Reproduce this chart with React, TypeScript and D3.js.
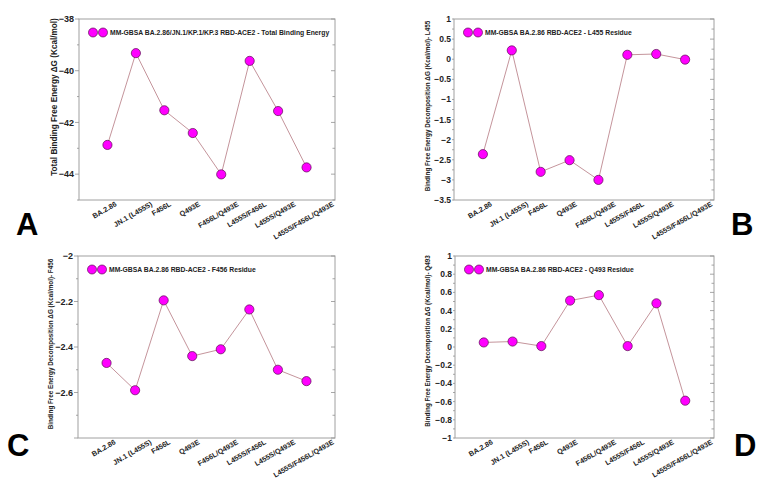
import React, { useRef, useEffect } from 'react';
import * as d3 from 'd3';

const variants = ['BA.2.86', 'JN.1 (L455S)', 'F456L', 'Q493E', 'F456L/Q493E', 'L455S/F456L', 'L455S/Q493E', 'L455S/F456L/Q493E'];

const totalEnergy = [-42.87, -39.32, -41.53, -42.41, -44.01, -39.62, -41.56, -43.74];
const l455Energy = [-2.36, 0.22, -2.8, -2.51, -3.0, 0.11, 0.13, -0.01];
const f456Energy = [-2.47, -2.59, -2.195, -2.44, -2.41, -2.235, -2.5, -2.55];
const q493Energy = [0.05, 0.06, 0.01, 0.51, 0.57, 0.01, 0.48, -0.59];

const panels = [
    {
        letter: 'A', values: totalEnergy, domain: [-45, -38], major: 2, minor: 1, labelBottom: false,
        yLabel: 'Total Binding Free Energy   \u0394G (Kcal/mol)', yLabelSize: 8.2, labelY: 97,
        legend: 'MM-GBSA BA.2.86/JN.1/KP.1/KP.3  RBD-ACE2  -  Total Binding Energy',
        box: { x0: 79, x1: 335, y0: 19, y1: 200 }, labelX: 57, tickSize: 9, tickGap: 5,
        letterPos: [16, 235]
    },
    {
        letter: 'B', values: l455Energy, domain: [-3.5, 1], major: 0.5, minor: 0.25, labelBottom: true,
        yLabel: 'Binding Free Energy Decomposition \u0394G (Kcal/mol)- L455', yLabelSize: 6.3, labelY: 106,
        legend: 'MM-GBSA BA.2.86 RBD-ACE2 -  L455 Residue',
        box: { x0: 454, x1: 714, y0: 19, y1: 200 }, labelX: 430, tickSize: 8.5, tickGap: 3,
        letterPos: [731, 235]
    },
    {
        letter: 'C', values: f456Energy, domain: [-2.8, -2], major: 0.2, minor: 0.1, labelBottom: false,
        yLabel: 'Binding Free Energy Decomposition \u0394G (Kcal/mol)- F456', yLabelSize: 6.3, labelY: 344,
        legend: 'MM-GBSA BA.2.86 RBD-ACE2 -  F456 Residue',
        box: { x0: 78, x1: 335, y0: 256, y1: 438 }, labelX: 53, tickSize: 9, tickGap: 5,
        letterPos: [7, 456]
    },
    {
        letter: 'D', values: q493Energy, domain: [-1, 1], major: 0.2, minor: 0.1, labelBottom: true,
        yLabel: 'Binding Free Energy Decomposition \u0394G (Kcal/mol)- Q493', yLabelSize: 6.3, labelY: 341,
        legend: 'MM-GBSA BA.2.86 RBD-ACE2 -  Q493 Residue',
        box: { x0: 455, x1: 714, y0: 256, y1: 438 }, labelX: 430, tickSize: 8.5, tickGap: 3,
        letterPos: [734, 456]
    }
];

const App = () => {
    const svgRef = useRef(null);

    useEffect(() => {
        const svg = d3.select(svgRef.current);
        svg.selectAll('*').remove();
        const font = 'Arial, Liberation Sans, sans-serif';
        const ang = 30;
        const rad = ang * Math.PI / 180;

        panels.forEach(p => {
            const { x0, x1, y0, y1 } = p.box;
            const g = svg.append('g');
            const x = d3.scaleLinear().domain([0, variants.length + 1]).range([x0, x1]);
            const y = d3.scaleLinear().domain(p.domain).range([y1, y0]);

            // frame
            g.append('rect')
                .attr('x', x0).attr('y', y0)
                .attr('width', x1 - x0).attr('height', y1 - y0)
                .attr('fill', 'none').attr('stroke', '#a0a0a0').attr('stroke-width', 1);

            const n = Math.round((p.domain[1] - p.domain[0]) / p.minor);
            const ticks = d3.range(n + 1).map(i => p.domain[0] + i * p.minor);
            ticks.forEach((t, i) => {
                const isMajor = Math.abs(t / p.major - Math.round(t / p.major)) < 1e-6;
                const len = isMajor ? 4 : 2.5;
                const outLen = isMajor ? p.tickGap - 1 : 2;
                g.append('line')
                    .attr('x1', x0 - outLen).attr('x2', x0)
                    .attr('y1', y(t)).attr('y2', y(t))
                    .attr('stroke', '#909090').attr('stroke-width', 0.8);
                g.append('line')
                    .attr('x1', x1 - len).attr('x2', x1)
                    .attr('y1', y(t)).attr('y2', y(t))
                    .attr('stroke', '#909090').attr('stroke-width', 0.8);
                if (isMajor && (i > 0 || p.labelBottom)) {
                    g.append('text')
                        .attr('x', x0 - p.tickGap).attr('y', y(t))
                        .attr('dy', '0.35em')
                        .attr('text-anchor', 'end')
                        .attr('font-family', font).attr('font-weight', 'bold')
                        .attr('font-size', p.tickSize)
                        .attr('fill', '#222')
                        .text(d3.format('~g')(+t.toFixed(4)));
                }
            });

            // y label
            g.append('text')
                .attr('transform', `translate(${p.labelX},${p.labelY}) rotate(-90)`)
                .attr('text-anchor', 'middle')
                .attr('font-family', font).attr('font-weight', 'bold')
                .attr('font-size', p.yLabelSize)
                .attr('fill', '#222')
                .text(p.yLabel);

            // x labels: rotated, bounding box centred under the category, top just below the frame
            variants.forEach((v, i) => {
                const t = g.append('text')
                    .attr('text-anchor', 'middle')
                    .attr('dy', '0.35em')
                    .attr('font-family', font).attr('font-weight', 'bold')
                    .attr('font-size', 7.2)
                    .attr('fill', '#222')
                    .text(v);
                const L = (t.node() as SVGTextElement).getComputedTextLength();
                const boxH = L * Math.sin(rad) + 5.5 * Math.cos(rad);
                t.attr('transform', `translate(${x(i + 1) - 3},${y1 + 1 + boxH / 2}) rotate(${-ang})`);
            });

            const line = d3.line()
                .x((d, i) => x(i + 1))
                .y(d => y(d));

            g.append('path')
                .attr('d', line(p.values))
                .attr('fill', 'none')
                .attr('stroke', '#bd8890')
                .attr('stroke-width', 0.9);

            g.selectAll('circle.pt')
                .data(p.values)
                .join('circle')
                .attr('class', 'pt')
                .attr('cx', (d, i) => x(i + 1))
                .attr('cy', d => y(d))
                .attr('r', 4.6)
                .attr('fill', '#ff00ff')
                .attr('stroke', '#5a1050')
                .attr('stroke-width', 0.7);

            // legend
            const lx = x0 + 14, ly = y0 + 13.5;
            [0, 10].forEach(dx => {
                g.append('circle')
                    .attr('cx', lx + dx).attr('cy', ly).attr('r', 4.5)
                    .attr('fill', '#ff00ff').attr('stroke', '#5a1050').attr('stroke-width', 0.7);
            });
            g.append('text')
                .attr('x', lx + 17).attr('y', ly)
                .attr('dy', '0.35em')
                .attr('font-family', font).attr('font-weight', 'bold')
                .attr('font-size', 6.8)
                .attr('fill', '#222')
                .text(p.legend);

            svg.append('text')
                .attr('x', p.letterPos[0]).attr('y', p.letterPos[1])
                .attr('font-family', font).attr('font-weight', 'bold')
                .attr('font-size', 31)
                .attr('fill', '#000')
                .text(p.letter);
        });
    }, []);

    return (
        <svg ref={svgRef} width={762} height={482}
            style={{ position: 'absolute', left: 0, top: 0, background: '#fff' }} />
    );
};

export default App;
